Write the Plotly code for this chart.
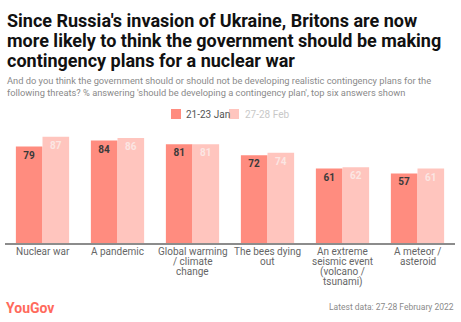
import plotly.graph_objects as go

categories = ["Nuclear war", "A pandemic", "Global warming\n/ climate\nchange",
              "The bees dying\nout", "An extreme\nseismic event\n(volcano /\ntsunami)",
              "A meteor /\nasteroid"]
jan_values = [79, 84, 81, 72, 61, 57]
feb_values = [87, 86, 81, 74, 62, 61]
series_names = ["21-23 Jan", "27-28 Feb"]

W, H = 461, 322
L, R, T, B = 5, 6, 121, 79
PW, PH = W - L - R, H - T - B

def px(x):
    return (x - L) / PW

def py(y):
    return (H - B - y) / PH

DARK = "#ff8c7f"
LIGHT = "#ffc5be"
FONT = "Roboto"

fig = go.Figure()
fig.add_trace(go.Bar(x=categories, y=jan_values, name=series_names[0], marker_color=DARK,
                     marker_line_width=0, text=jan_values, textposition="inside",
                     insidetextanchor="end", textangle=0,
                     textfont=dict(family=FONT, size=10, color="#3a3a3a", weight=700),
                     showlegend=False, hoverinfo="skip"))
fig.add_trace(go.Bar(x=categories, y=feb_values, name=series_names[1], marker_color=LIGHT,
                     marker_line_width=0, text=feb_values, textposition="inside",
                     insidetextanchor="end", textangle=0,
                     textfont=dict(family=FONT, size=10, color="#fbe6e3", weight=700),
                     showlegend=False, hoverinfo="skip"))

annotations = []
# title, one annotation per line
title_lines = ["Since Russia's invasion of Ukraine, Britons are now",
               "more likely to think the government should be making",
               "contingency plans for a nuclear war"]
for i, line in enumerate(title_lines):
    annotations.append(dict(x=px(5), xref="paper", y=py(20.5 + 20 * i), yref="paper", text=line,
                            showarrow=False, xanchor="left", yanchor="middle",
                            font=dict(family=FONT, size=18, color="#111111", weight=700)))

# category labels, one annotation per line
for cat in categories:
    for i, line in enumerate(cat.split("\n")):
        annotations.append(dict(x=cat, xref="x", y=py(251 + 10.3 * i), yref="paper",
                                text=line, showarrow=False, xanchor="center", yanchor="middle",
                                font=dict(family=FONT, size=10, color="#666666")))

# subtitle
sub_lines = ["And do you think the government should or should not be developing realistic contingency plans for the",
             "following threats? % answering 'should be developing a contingency plan', top six answers shown"]
for i, line in enumerate(sub_lines):
    annotations.append(dict(x=px(5), xref="paper", y=py(80 + 12 * i), yref="paper", text=line,
                            showarrow=False, xanchor="left", yanchor="middle",
                            font=dict(family=FONT, size=9.3, color="#8a8a8a")))

# legend
leg = [(171, 184, series_names[0], DARK, "#555555"), (229, 243, series_names[1], LIGHT, "#c8c8c8")]
shapes = []
for sx, tx, name, col, tcol in leg:
    shapes.append(dict(type="rect", xref="paper", yref="paper", x0=px(sx), x1=px(sx + 10),
                       y0=py(119), y1=py(109), fillcolor=col, line_width=0))
    annotations.append(dict(x=px(tx), xref="paper", y=py(114), yref="paper", text=name,
                            showarrow=False, xanchor="left", yanchor="middle",
                            font=dict(family=FONT, size=10, color=tcol)))

# footer
annotations.append(dict(x=px(4), xref="paper", y=py(308), yref="paper", text="<b>YouGov</b>",
                        showarrow=False, xanchor="left", yanchor="middle",
                        font=dict(family=FONT, size=14, color="#ff6a5c")))
annotations.append(dict(x=px(456), xref="paper", y=py(307), yref="paper",
                        text="Latest data: 27-28 February 2022",
                        showarrow=False, xanchor="right", yanchor="middle",
                        font=dict(family=FONT, size=8.5, color="#8a8a8a")))

fig.update_layout(
    width=W, height=H,
    margin=dict(l=L, r=R, t=T, b=B, pad=0),
    paper_bgcolor="white", plot_bgcolor="white",
    barmode="group", bargap=0.29, bargroupgap=0,
    xaxis=dict(showticklabels=False, ticks="", showline=True, linecolor="#8c8c8c", linewidth=1.5,
               showgrid=False, zeroline=False, fixedrange=True),
    yaxis=dict(range=[0, 100], visible=False, fixedrange=True),
    annotations=annotations, shapes=shapes,
    showlegend=False,
)

fig.write_html("out.html", config={"displayModeBar": False})
